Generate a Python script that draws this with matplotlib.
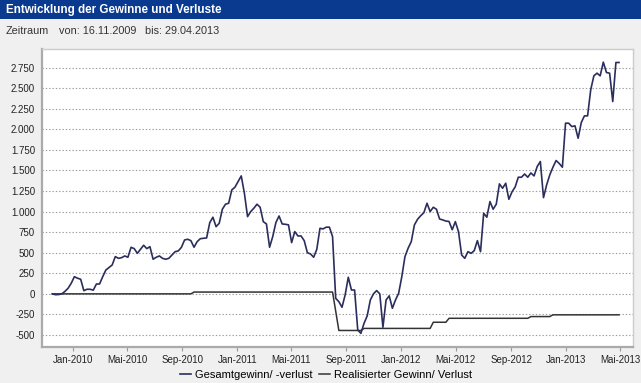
import matplotlib
matplotlib.use("Agg")
import matplotlib.pyplot as plt
import pandas as pd

plt.rcParams['font.family'] = ['Liberation Sans', 'DejaVu Sans']

# Data (weekly values)
start_date = "2009-11-16"
gesamt = [
    0, -10, -8, 0, 30, 68, 129, 209, 190, 178,
    39, 56, 56, 45, 120, 120, 209, 290, 320, 351,
    453, 432, 440, 461, 445, 566, 550, 493, 542, 591,
    550, 574, 421, 445, 461, 432, 421, 432, 473, 513,
    522, 566, 655, 664, 647, 567, 635, 671, 675, 680,
    866, 932, 817, 858, 1029, 1090, 1102, 1264, 1297, 1365,
    1434, 1223, 939, 1000, 1041, 1090, 1053, 878, 850, 567,
    696, 866, 947, 850, 846, 839, 623, 757, 704, 704,
    647, 501, 485, 445, 542, 797, 790, 811, 811, 696,
    -54, -95, -163, -13, 202, 47, 47, -439, -480, -358,
    -268, -74, 0, 40, 0, -406, -74, -24, -175, -74,
    8, 210, 453, 555, 635, 838, 907, 950, 987, 1102,
    1000, 1053, 1029, 910, 899, 885, 880, 780, 878, 757,
    473, 432, 513, 493, 525, 647, 513, 980, 932, 1122,
    1029, 1090, 1337, 1284, 1345, 1150, 1240, 1300, 1418, 1418,
    1457, 1418, 1470, 1434, 1548, 1609, 1170, 1325, 1447, 1540,
    1621, 1585, 1540, 2075, 2075, 2034, 2043, 1892, 2083, 2164,
    2164, 2481, 2651, 2683, 2651, 2817, 2691, 2683, 2338, 2813,
    2813,
]

# realized profit/loss: points where the line changes
real_dates = ["2009-11-16", "2010-09-20", "2010-09-27", "2011-08-01", "2011-08-08",
              "2011-08-15", "2011-10-03", "2011-10-10", "2012-03-05", "2012-03-12",
              "2012-04-09", "2012-04-16", "2012-10-08", "2012-10-15", "2012-11-26",
              "2012-12-03", "2013-04-29"]
real_values = [0, 0, 22, 22, -210, -445, -445, -420, -420, -345,
               -345, -297, -297, -276, -276, -255, -255]

tick_dates = ["2010-01-01", "2010-05-01", "2010-09-01", "2011-01-01", "2011-05-01",
              "2011-09-01", "2012-01-01", "2012-05-01", "2012-09-01", "2013-01-01",
              "2013-05-01"]
tick_labels = ["Jan-2010", "Mai-2010", "Sep-2010", "Jan-2011", "Mai-2011", "Sep-2011",
               "Jan-2012", "Mai-2012", "Sep-2012", "Jan-2013", "Mai-2013"]
y_ticks = [-500, -250, 0, 250, 500, 750, 1000, 1250, 1500, 1750, 2000, 2250, 2500, 2750]

gesamt_dates = pd.date_range(start_date, periods=len(gesamt), freq="7D")

fig = plt.figure(figsize=(6.41, 3.83), dpi=100, facecolor='#f0f0f0')

# header bar
fig.patches.append(plt.Rectangle((0, 1 - 19 / 383), 1, 19 / 383, transform=fig.transFigure,
                                 facecolor='#0a3a8f', edgecolor='none', zorder=0))
fig.text(6 / 641, 1 - 9.5 / 383, "Entwicklung der Gewinne und Verluste", color='white',
         fontsize=8.4, fontweight='bold', va='center', ha='left')
fig.text(6 / 641, 1 - 31 / 383, "Zeitraum", color='#333333', fontsize=7.8, va='center')
fig.text(59 / 641, 1 - 31 / 383, "von: 16.11.2009", color='#333333', fontsize=7.8, va='center')
fig.text(145 / 641, 1 - 31 / 383, "bis: 29.04.2013", color='#333333', fontsize=7.8, va='center')

ax = fig.add_axes([42 / 641, 1 - 347 / 383, (633 - 42) / 641, (347 - 49) / 383])
ax.set_facecolor('white')

ax.plot(gesamt_dates, gesamt, color='#2b2e5c', lw=1.2, label='Gesamtgewinn/ -verlust', zorder=3)
ax.plot(pd.to_datetime(real_dates), real_values, color='#333333', lw=1.1,
        label='Realisierter Gewinn/ Verlust', zorder=2)

ax.set_xlim(pd.Timestamp("2009-10-24"), pd.Timestamp("2013-05-30"))
ax.set_ylim(-646, 2977)

ax.set_yticks(y_ticks)
ax.set_yticklabels([f"{v:,}".replace(",", ".") for v in y_ticks])
ax.set_xticks(pd.to_datetime(tick_dates))
ax.set_xticklabels(tick_labels)

ax.grid(axis='y', linestyle=(0, (1.2, 1.8)), color='#9a9a9a', lw=0.8)
ax.tick_params(axis='y', length=0, labelsize=7, labelcolor='#222222', pad=5)
ax.tick_params(axis='x', length=3, color='#999999', labelsize=7, labelcolor='#222222', pad=3)

for side in ['top', 'right']:
    ax.spines[side].set_color('#cccccc')
    ax.spines[side].set_linewidth(1)
for side in ['left', 'bottom']:
    ax.spines[side].set_color('#aaaaaa')
    ax.spines[side].set_linewidth(1.6)

fig.legend(loc='center', bbox_to_anchor=(326 / 641, 1 - 375 / 383), ncol=2, frameon=False,
           fontsize=8, handlelength=1.0, handletextpad=0.4, columnspacing=0.5)

plt.savefig("out.png", dpi=100, facecolor=fig.get_facecolor())
